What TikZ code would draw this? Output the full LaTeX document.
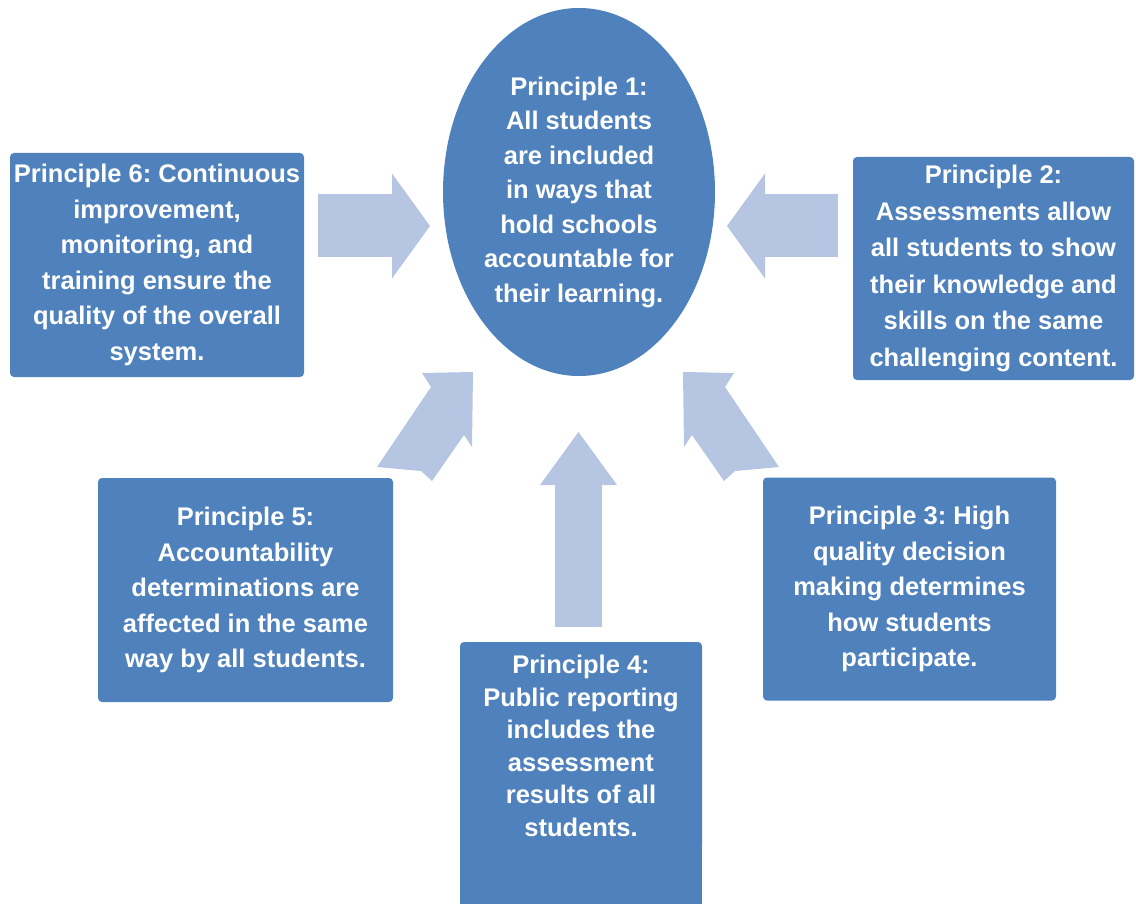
\documentclass[tikz,border=0pt]{standalone}
\usepackage{fontspec}
\setmainfont{Liberation Sans}
\usetikzlibrary{shapes.geometric,arrows.meta,backgrounds}
\definecolor{boxblue}{RGB}{79,129,189}
\definecolor{arrowblue}{RGB}{182,197,225}
\frenchspacing

\tikzset{fat/.style n args={3}{draw=arrowblue, line width=#1, -{Triangle[width=#2, length=#3, line width=0pt, fill=arrowblue]}}}

\begin{document}
\begin{tikzpicture}[x=1pt, y=-1pt]
	\tikzstyle{princ}=[fill=boxblue, rounded corners=4pt, text=white, align=center, inner sep=0pt, font=\bfseries\fontsize{25.5}{35.5}\selectfont]
	\useasboundingbox (0,0) rectangle (1136,904);
	% Principle 1
	\node at (579,192) [princ, ellipse, minimum width=272pt, minimum height=368pt, font=\bfseries\fontsize{25.5}{34.5}\selectfont] (p1) {Principle 1:\\All students\\are included\\in ways that\\hold schools\\accountable for\\their learning.};
	% Principle 2 .. 6
	\node at (993.5,268.5) [princ, minimum width=281pt, minimum height=223pt, font=\bfseries\fontsize{25.5}{36.5}\selectfont] (p2) {Principle 2:\\Assessments allow\\all students to show\\their knowledge and\\skills on the same\\challenging content.};
	\node at (909.5,589) [princ, minimum width=293pt, minimum height=223pt] (p3) {Principle 3: High\\quality decision\\making determines\\how students\\participate.};
	\node at (581,746) [princ, minimum width=242pt, minimum height=208pt, font=\bfseries\fontsize{25.5}{32.5}\selectfont] (p4) {Principle 4:\\Public reporting\\includes the\\assessment\\results of all\\students.};
	\node at (245.5,590) [princ, minimum width=295pt, minimum height=224pt] (p5) {Principle 5:\\Accountability\\determinations are\\affected in the same\\way by all students.};
	\node at (157,265) [princ, minimum width=294pt, minimum height=224pt] (p6) {Principle 6: Continuous\\improvement,\\monitoring, and\\training ensure the\\quality of the overall\\system.};
	% box 4 runs off the bottom
	\begin{scope}[on background layer]
		\fill[boxblue] (p4.west) rectangle (p4.east |- 0,910);
	\end{scope}
	%---------------------%
	% arrow ends
	\coordinate (a6) at (318,226);   \coordinate (b6) at (430,226);
	\coordinate (a2) at (838,226);   \coordinate (b2) at (727,226);
	\coordinate (a4) at (578.5,627); \coordinate (b4) at (578.5,432);
	% arrows into Principle 1
	\draw[fat={63pt}{105pt}{38pt}] (a6) -- (b6);
	\draw[fat={63pt}{105pt}{38pt}] (a2) -- (b2);
	\draw[fat={47pt}{77pt}{53pt}] (a4) -- (b4);
	% slanted arrows from Principle 5 and 3 (mirror images)
	\foreach \s in {1,-1}
		\fill[arrowblue, xshift=578pt, xscale=\s] (-105,372) -- (-156,373) -- (-147,387) -- (-201,467)
			-- (-157,471) -- (-146,481) -- (-114,435) -- (-106,447) -- cycle;
	%---------------------%
\end{tikzpicture}
\end{document}
